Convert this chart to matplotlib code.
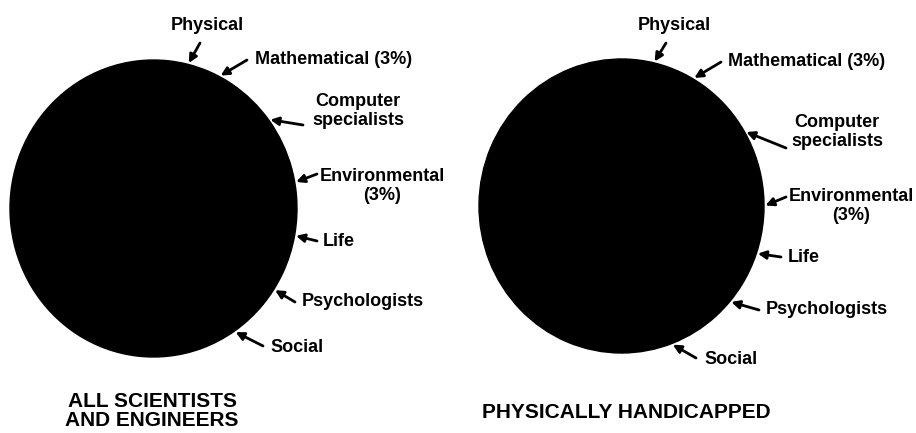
import numpy as np
import matplotlib.pyplot as plt

# slices, clockwise from the top of each pie (percent of total)
fields = ['Physical', 'Mathematical', 'Computer specialists', 'Environmental',
          'Life', 'Psychologists', 'Social', 'Engineers']
labels = ['Physical', 'Mathematical (3%)', 'Computer\nspecialists',
          'Environmental\n(3%)', 'Life', 'Psychologists', 'Social', '']

all_se = [4.5, 3, 11.5, 3, 8.5, 4, 8.5, 57]
handicapped = [6.5, 3, 13.5, 3, 7.5, 4.5, 11.5, 50.5]

titles = ['ALL SCIENTISTS\nAND ENGINEERS', 'PHYSICALLY HANDICAPPED']

W, H = 916, 433
FONT = 'Liberation Sans'


def fx(x, y):
    # pixel (from top-left) -> figure fraction
    return (x / W, 1 - y / H)


# layout, in pixels: pie box, label spots, arrow tails, title spot
layouts = [
    dict(box=(10, 60, 297, 357), start=6,
         text=[(207, 25, 'center'), (255, 60, 'left'), (358, 111, 'center'),
               (382, 186, 'center'), (323, 241, 'left'), (302, 302, 'left'),
               (270, 347, 'left')],
         tail=[(200, 43), (247, 60), (303, 125), (317, 174), (317, 241),
               (295, 302), (263, 346)],
         title=(152, 411)),
    dict(box=(479, 59, 764, 353), start=1.6,
         text=[(674, 25, 'center'), (728, 62, 'left'), (837, 132, 'center'),
               (851, 206, 'center'), (788, 258, 'left'), (766, 310, 'left'),
               (704, 360, 'left')],
         tail=[(666, 43), (721, 62), (786, 148), (786, 197), (781, 257),
               (759, 310), (696, 358)],
         title=(626, 413)),
]

fig = plt.figure(figsize=(W / 100, H / 100), dpi=100)

for values, lay, title in zip([all_se, handicapped], layouts, titles):
    x0, y0, x1, y1 = lay['box']
    ax = fig.add_axes([x0 / W, 1 - y1 / H, (x1 - x0) / W, (y1 - y0) / H])
    wedges, _ = ax.pie(values, colors=['black'] * len(values),
                       startangle=90 - lay['start'], counterclock=False,
                       wedgeprops=dict(edgecolor='black', linewidth=1))
    ax.set_aspect('auto')
    ax.set_xlim(-1, 1)
    ax.set_ylim(-1, 1)
    ax.axis('off')

    for i, lab in enumerate(labels):
        if not lab:
            continue
        w = wedges[i]
        mid = np.deg2rad((w.theta1 + w.theta2) / 2)
        tip = (1.01 * np.cos(mid), 1.01 * np.sin(mid))
        ax.annotate('', xy=tip, xycoords='data', annotation_clip=False,
                    xytext=fx(*lay['tail'][i]), textcoords='figure fraction',
                    arrowprops=dict(arrowstyle='-|>', color='black', lw=2,
                                    mutation_scale=12, shrinkA=0, shrinkB=0))
        tx, ty, ha = lay['text'][i]
        fig.text(*fx(tx, ty), lab, ha=ha, va='center', multialignment='center',
                 fontsize=13, fontweight='bold', family=FONT, linespacing=1.1)

    fig.text(*fx(*lay['title']), title, ha='center', va='center',
             multialignment='center', fontsize=15, fontweight='bold',
             family=FONT, linespacing=1.0)

fig.savefig('out.png', dpi=100, facecolor='white')
